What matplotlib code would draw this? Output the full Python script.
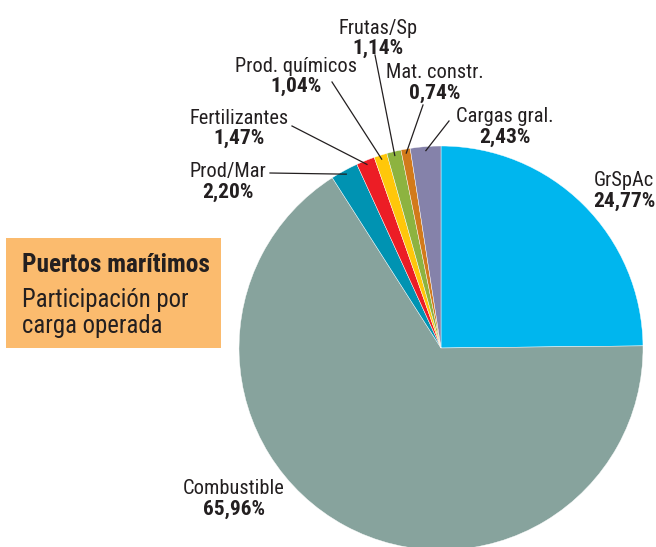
import numpy as np
import matplotlib
matplotlib.use("Agg")
import matplotlib.pyplot as plt
from matplotlib import font_manager as fm
from matplotlib.patches import Rectangle

categories = ["GrSpAc", "Combustible", "Prod/Mar", "Fertilizantes", "Prod. químicos",
              "Frutas/Sp", "Mat. constr.", "Cargas gral."]
values = [24.77, 65.96, 2.20, 1.47, 1.04, 1.14, 0.74, 2.43]
value_labels = ["24,77%", "65,96%", "2,20%", "1,47%", "1,04%", "1,14%", "0,74%", "2,43%"]
colors = ["#00B6EE", "#87A39D", "#0093B2", "#EC1D25", "#FFC70A", "#8DB340", "#D27A1B", "#8582AA"]
title = "Puertos marítimos"
subtitle = "Participación por\ncarga operada"

names = {f.name for f in fm.fontManager.ttflist}
fam = "Roboto"
for cand in ["Roboto Condensed", "Archivo Narrow", "PT Sans Narrow", "Fira Sans Condensed",
             "IBM Plex Sans Condensed", "Liberation Sans Narrow"]:
    if cand in names:
        fam = cand
        break
plt.rcParams['font.family'] = [fam, 'DejaVu Sans']
scale = 1.0 if fam == "Roboto" else 1.08

W, H = 656, 547
fig = plt.figure(figsize=(W / 100, H / 100), dpi=100)
ax = fig.add_axes([0, 0, 1, 1])

cx, cy, R = 441, H - 348, 202
wedges, _ = ax.pie(values, colors=colors, startangle=90, counterclock=False,
                   center=(cx, cy), radius=R, wedgeprops=dict(linewidth=0.3, edgecolor='white'),
                   frame=True)
ax.set_xlim(0, W)
ax.set_ylim(0, H)
ax.set_aspect('equal')
ax.axis('off')

layout = {
    "GrSpAc": (624, 181, None),
    "Combustible": (234, 489, None),
    "Prod/Mar": (228, 172, (270, 173)),
    "Fertilizantes": (239, 118, (292, 126)),
    "Prod. químicos": (296, 66, (332, 82)),
    "Frutas/Sp": (378, 28, (375, 55)),
    "Mat. constr.": (435, 73, (423, 105)),
    "Cargas gral.": (505, 117, (449, 121)),
}
dark = "#231F20"
fs = 13.6 * scale
for w, name, vl in zip(wedges, categories, value_labels):
    tx, ty, lead = layout[name]
    ax.text(tx, H - ty, name, ha='center', va='center', fontsize=fs, color=dark)
    ax.text(tx, H - ty - 20, vl, ha='center', va='center', fontsize=fs * 1.05,
            fontweight='bold', color=dark)
    if lead is not None:
        ang = np.deg2rad((w.theta1 + w.theta2) / 2)
        ex = cx + R * 0.98 * np.cos(ang)
        ey = cy + R * 0.98 * np.sin(ang)
        ax.plot([lead[0], ex], [H - lead[1], ey], color=dark, lw=0.9)

ax.add_patch(Rectangle((6, H - 348), 215, 110, facecolor="#FBBB6E", edgecolor='none'))
ax.text(22, H - 265, title, ha='left', va='center', fontsize=16.9 * scale, fontweight='bold', color=dark)
ax.text(22, H - 313, subtitle, ha='left', va='center', fontsize=16.5 * scale, color=dark,
        linespacing=1.12)

fig.savefig("out.png", dpi=100)
